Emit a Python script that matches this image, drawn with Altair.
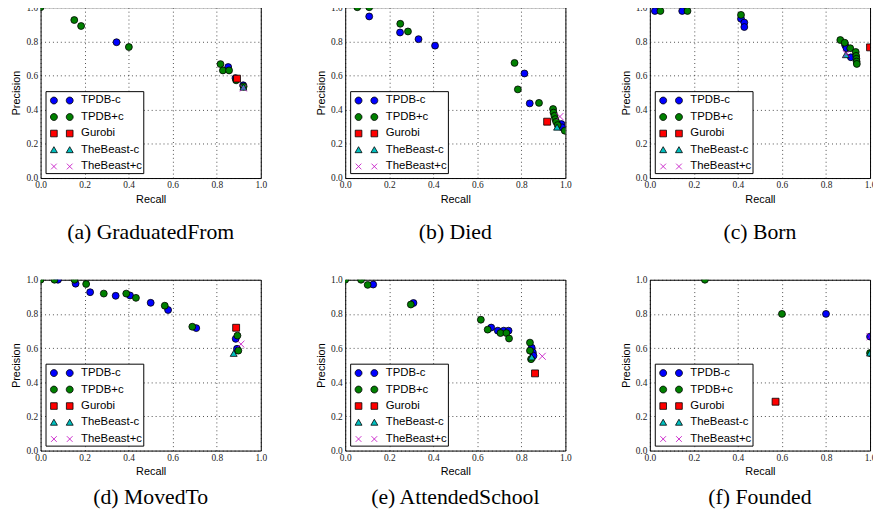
import altair as alt
import pandas as pd

SERIES = ["TPDB-c", "TPDB+c", "Gurobi", "TheBeast-c", "TheBeast+c"]
FILL_COLORS = ["#0000ff", "#008000", "#ff0000", "#00bfbf", "#bf00bf"]
STROKE_COLORS = ["#000000", "#000000", "#000000", "#000000", "#bf00bf"]
POINT_SHAPES = ["circle", "circle", "square", "triangle-up", "M-1,-1L1,1M-1,1L1,-1"]
LEGEND_SHAPES = [
    "M-0.56,0A0.44,0.44,0,1,1,-1.44,0A0.44,0.44,0,1,1,-0.56,0ZM1.44,0A0.44,0.44,0,1,1,0.56,0A0.44,0.44,0,1,1,1.44,0Z",
    "M-0.56,0A0.44,0.44,0,1,1,-1.44,0A0.44,0.44,0,1,1,-0.56,0ZM1.44,0A0.44,0.44,0,1,1,0.56,0A0.44,0.44,0,1,1,1.44,0Z",
    "M-1.42,-0.42H-0.58V0.42H-1.42ZM0.58,-0.42H1.42V0.42H0.58Z",
    "M-1,-0.42L-0.56,0.34L-1.44,0.34ZM1,-0.42L1.44,0.34L0.56,0.34Z",
    "M-1.36,-0.36L-0.64,0.36M-1.36,0.36L-0.64,-0.36M0.64,-0.36L1.36,0.36M0.64,0.36L1.36,-0.36",
]
TICKS = [0.0, 0.2, 0.4, 0.6, 0.8, 1.0]

# (recall, precision) pairs
# (a) GraduatedFrom
grad_tpdb_minus = [(0.345, 0.795), (0.852, 0.650), (0.885, 0.585), (0.920, 0.543)]
grad_tpdb_plus = [(0.0, 1.0), (0.153, 0.925), (0.184, 0.890), (0.401, 0.767), (0.817, 0.667),
                  (0.828, 0.630), (0.856, 0.630), (0.888, 0.572), (0.922, 0.536)]
grad_gurobi = [(0.892, 0.582)]
grad_beast_minus = [(0.921, 0.532)]
grad_beast_plus = [(0.921, 0.527)]

# (b) Died
died_tpdb_minus = [(0.109, 0.946), (0.249, 0.852), (0.333, 0.813), (0.408, 0.775), (0.814, 0.612),
                   (0.838, 0.437), (0.982, 0.316), (0.985, 0.297)]
died_tpdb_plus = [(0.055, 1.0), (0.109, 1.0), (0.250, 0.903), (0.285, 0.858), (0.769, 0.674),
                  (0.784, 0.519), (0.880, 0.440), (0.944, 0.404), (0.946, 0.383), (0.950, 0.364),
                  (0.954, 0.345), (0.958, 0.329), (0.965, 0.310), (0.997, 0.277)]
died_gurobi = [(0.917, 0.330)]
died_beast_minus = [(0.962, 0.298)]
died_beast_plus = [(0.975, 0.360)]

# (c) Born
born_tpdb_minus = [(0.023, 0.978), (0.147, 0.978), (0.414, 0.932), (0.429, 0.910), (0.429, 0.884),
                   (0.887, 0.778), (0.893, 0.760), (0.913, 0.707)]
born_tpdb_plus = [(0.048, 0.978), (0.171, 0.978), (0.414, 0.955), (0.865, 0.808), (0.885, 0.792),
                  (0.910, 0.760), (0.935, 0.738), (0.937, 0.715), (0.938, 0.698), (0.939, 0.682),
                  (0.940, 0.668)]
born_gurobi = [(1.0, 0.765)]
born_beast_minus = [(0.890, 0.722)]
born_beast_plus = [(0.893, 0.726)]

# (d) MovedTo
moved_tpdb_minus = [(0.079, 1.0), (0.159, 0.977), (0.225, 0.927), (0.341, 0.906), (0.406, 0.908),
                    (0.500, 0.865), (0.579, 0.823), (0.707, 0.717), (0.886, 0.654), (0.892, 0.596)]
moved_tpdb_plus = [(0.0, 1.0), (0.063, 1.0), (0.154, 1.0), (0.207, 0.975), (0.287, 0.919),
                   (0.389, 0.919), (0.433, 0.894), (0.564, 0.848), (0.689, 0.725), (0.894, 0.673),
                   (0.898, 0.585)]
moved_gurobi = [(0.888, 0.719)]
moved_beast_minus = [(0.877, 0.569)]
moved_beast_plus = [(0.910, 0.623)]

# (e) AttendedSchool
school_tpdb_minus = [(0.127, 0.972), (0.310, 0.864), (0.663, 0.720), (0.693, 0.702), (0.720, 0.702),
                     (0.742, 0.702), (0.847, 0.602), (0.852, 0.575), (0.855, 0.555)]
school_tpdb_plus = [(0.0, 1.0), (0.072, 1.0), (0.102, 0.970), (0.298, 0.855), (0.616, 0.766),
                    (0.647, 0.708), (0.705, 0.688), (0.732, 0.688), (0.744, 0.656), (0.839, 0.632),
                    (0.839, 0.585), (0.844, 0.535)]
school_gurobi = [(0.862, 0.452)]
school_beast_minus = [(0.847, 0.548)]
school_beast_plus = [(0.895, 0.552)]

# (f) Founded
founded_tpdb_minus = [(0.8, 0.8), (1.0, 0.667)]
founded_tpdb_plus = [(0.25, 1.0), (0.6, 0.8), (1.0, 0.571)]
founded_gurobi = [(0.571, 0.286)]
founded_beast_minus = [(1.0, 0.571)]
founded_beast_plus = [(1.0, 0.667)]

PANELS = [
    ("(a) GraduatedFrom", [grad_tpdb_minus, grad_tpdb_plus, grad_gurobi, grad_beast_minus, grad_beast_plus]),
    ("(b) Died", [died_tpdb_minus, died_tpdb_plus, died_gurobi, died_beast_minus, died_beast_plus]),
    ("(c) Born", [born_tpdb_minus, born_tpdb_plus, born_gurobi, born_beast_minus, born_beast_plus]),
    ("(d) MovedTo", [moved_tpdb_minus, moved_tpdb_plus, moved_gurobi, moved_beast_minus, moved_beast_plus]),
    ("(e) AttendedSchool", [school_tpdb_minus, school_tpdb_plus, school_gurobi, school_beast_minus, school_beast_plus]),
    ("(f) Founded", [founded_tpdb_minus, founded_tpdb_plus, founded_gurobi, founded_beast_minus, founded_beast_plus]),
]

PLOT_W, PLOT_H = 223, 173


def legend_params():
    return alt.Legend(
        orient="bottom-left", offset=5, title=None, padding=1,
        fillColor="white", strokeColor="black",
        symbolSize=256, symbolStrokeWidth=0.8, symbolOffset=7, symbolOpacity=1,
        labelOffset=11, labelFont="Liberation Sans", labelFontSize=11.5,
        labelColor="black", rowPadding=2.7, cornerRadius=0, labelLimit=200,
    )


def make_panel(caption, series_lists, caption_offset):
    rows = []
    for name, pts in zip(SERIES, series_lists):
        for r, p in pts:
            rows.append({"recall": r, "precision": p, "series": name})
    df = pd.DataFrame(rows)
    base = alt.Chart(df)
    x = alt.X("recall:Q", scale=alt.Scale(domain=[0, 1], nice=False, zero=False),
              axis=alt.Axis(title="Recall", values=TICKS, format=".1f"))
    y = alt.Y("precision:Q", scale=alt.Scale(domain=[0, 1], nice=False, zero=False),
              axis=alt.Axis(title="Precision", values=TICKS, format=".1f"))
    points = base.mark_point(filled=True, clip=True, size=49, strokeWidth=0.8, opacity=1).encode(
        x=x, y=y,
        fill=alt.Fill("series:N", scale=alt.Scale(domain=SERIES, range=FILL_COLORS), legend=None),
        stroke=alt.Stroke("series:N", scale=alt.Scale(domain=SERIES, range=STROKE_COLORS), legend=None),
        shape=alt.Shape("series:N", scale=alt.Scale(domain=SERIES, range=POINT_SHAPES), legend=None),
        order=alt.Order("idx:Q"),
    ).transform_window(idx="row_number()")
    key = base.transform_filter("false").mark_point(filled=True, size=256, strokeWidth=0.8, opacity=1).encode(
        x=x, y=y,
        fill=alt.Fill("series:N", scale=alt.Scale(domain=SERIES, range=FILL_COLORS), legend=legend_params()),
        stroke=alt.Stroke("series:N", scale=alt.Scale(domain=SERIES, range=STROKE_COLORS), legend=legend_params()),
        shape=alt.Shape("series:N", scale=alt.Scale(domain=SERIES, range=LEGEND_SHAPES), legend=legend_params()),
    )
    return alt.layer(points, key).resolve_scale(
        fill="independent", stroke="independent", shape="independent"
    ).properties(
        width=PLOT_W, height=PLOT_H,
        title=alt.TitleParams(caption, orient="bottom", anchor="middle", frame="group",
                              font="Liberation Serif", fontSize=22, fontWeight="normal",
                              color="black", offset=caption_offset),
    )


panels = [make_panel(c, s, 18 if i < 3 else 11) for i, (c, s) in enumerate(PANELS)]

chart = alt.concat(*panels, columns=3, spacing={"row": 31, "column": 47.5}).resolve_scale(
    fill="independent", stroke="independent", shape="independent"
).properties(
    padding={"left": 2, "top": -10, "right": -4, "bottom": 0}
).configure_view(
    stroke="black", strokeWidth=1
).configure_axis(
    labelFont="Liberation Serif", labelFontSize=9.5, labelColor="#222222",
    titleFont="Liberation Sans", titleFontSize=11, titleFontWeight="normal", titleColor="black",
    grid=True, gridColor="black", gridDash=[1, 3], gridWidth=0.7, gridOpacity=1,
    ticks=False, domain=False, labelFlush=False, labelOverlap=False, labelPadding=3,
).configure_axisX(
    titlePadding=4, labelPadding=2
).configure_axisY(
    titlePadding=4
)

chart.save("out.html", embed_options={"renderer": "svg", "actions": False})
